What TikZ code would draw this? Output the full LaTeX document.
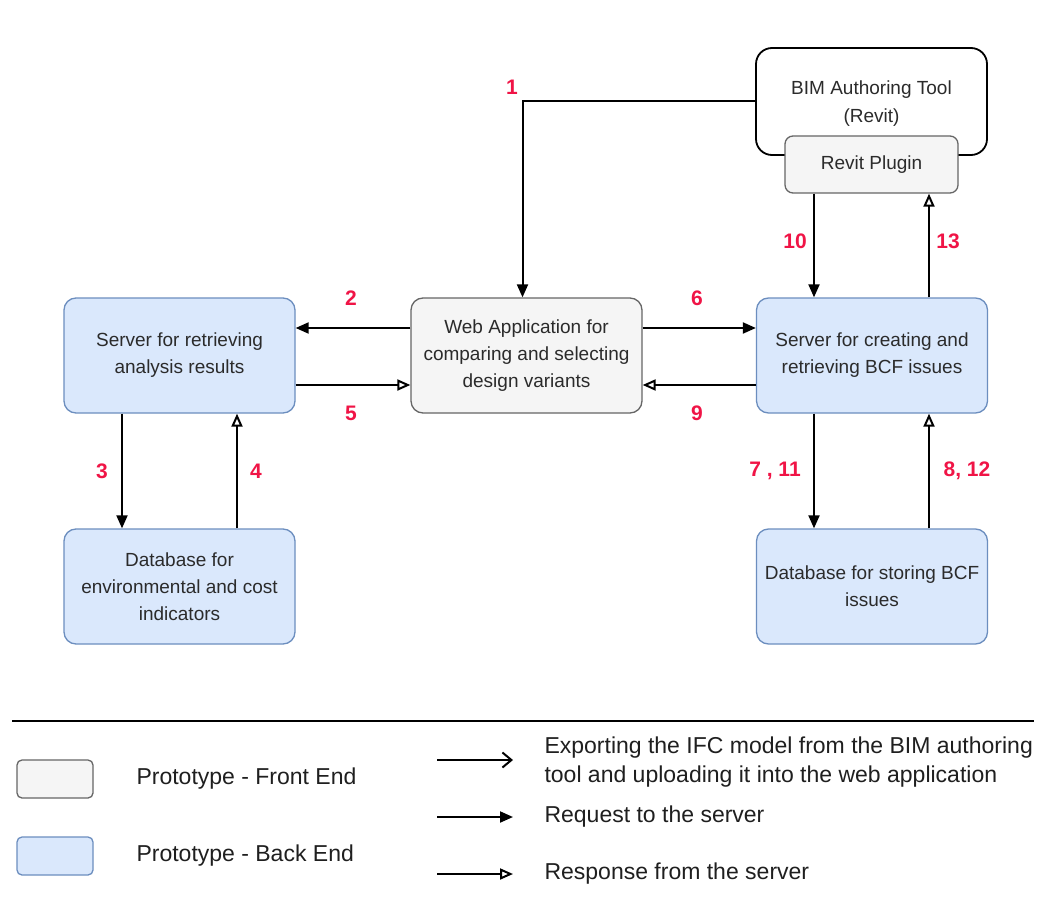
\documentclass[tikz,border=0pt]{standalone}
\usepackage{fontspec}
\setmainfont{Liberation Sans}
\usetikzlibrary{arrows.meta}
\definecolor{bluefill}{HTML}{DAE8FC}
\definecolor{blueline}{HTML}{6C8EBF}
\definecolor{grayfill}{HTML}{F5F5F5}
\definecolor{grayline}{HTML}{666666}
\definecolor{numred}{RGB}{240,20,70}
\definecolor{txt}{HTML}{2B2B2B}

\begin{document}
\begin{tikzpicture}[x=1pt,y=-1pt,
  box/.style={rounded corners=12pt, line width=1.3pt, minimum width=231pt,
    minimum height=115pt, inner sep=0pt, align=center, text=txt,
    font=\fontsize{19}{27}\selectfont},
  backend/.style={box, fill=bluefill, draw=blueline},
  frontend/.style={box, fill=grayfill, draw=grayline},
  req/.style={line width=2pt, -{Triangle[length=13pt,width=11pt]}},
  resp/.style={line width=2pt, -{Triangle[open,length=13pt,width=11pt,fill=white]}},
  export/.style={line width=2pt, -{Straight Barb[length=9pt,width=15pt]}},
  num/.style={text=numred, font=\fontsize{21}{21}\selectfont\bfseries},
  legtext/.style={font=\fontsize{23}{29}\selectfont, text=black!88, anchor=west, align=left},
  swatch/.style={rounded corners=5pt, line width=1.3pt, minimum width=76pt, minimum height=38pt, inner sep=0pt}
]
\fill[white] (0,0) rectangle (1046,909);
\useasboundingbox (0,0) rectangle (1046,909);

% authoring tool with its plugin
\node[draw=black, fill=white, line width=1.8pt, rounded corners=16pt,
      minimum width=231pt, minimum height=107pt] (bim) at (871.5,101.5) {};
\node[text=txt, align=center, font=\fontsize{19}{28}\selectfont] (bimtext) at (871.5,104) {BIM Authoring Tool\\(Revit)};
\node[frontend, minimum width=173pt, minimum height=57pt, rounded corners=8pt] (plugin) at (871.5,164.5) {Revit Plugin};

% main components
\node[backend]  (srv) at (179.5,355.5) {Server for retrieving\\analysis results};
\node[frontend] (web) at (526.5,355.5) {Web Application for\\comparing and selecting\\design variants};
\node[backend]  (bcf) at (872,355.5)   {Server for creating and\\retrieving BCF issues};
\node[backend]  (dbenv) at (179.5,586.5) {Database for\\environmental and cost\\indicators};
\node[backend]  (dbbcf) at (872,586.5)   {Database for storing BCF\\issues};

% connectors
\draw[req] (bim.west) -| ([xshift=-4pt]web.north);
\draw[req] ([yshift=27.5pt]web.west) -- ([yshift=27.5pt]srv.east);
\draw[resp] ([yshift=-29.5pt]srv.east) -- ([yshift=-29.5pt]web.west);
\draw[req] ([yshift=27.5pt]web.east) -- ([yshift=27.5pt]bcf.west);
\draw[resp] ([yshift=-29.5pt]bcf.west) -- ([yshift=-29.5pt]web.east);
\draw[req] ([xshift=-57.5pt]srv.south) -- ([xshift=-57.5pt]dbenv.north);
\draw[resp] ([xshift=57.5pt]dbenv.north) -- ([xshift=57.5pt]srv.north |- srv.south);
\draw[req] ([xshift=-57.5pt]plugin.south) -- ([xshift=-58pt]bcf.north);
\draw[resp] ([xshift=57pt]bcf.north) -- ([xshift=57.5pt]plugin.south);
\draw[req] ([xshift=-58pt]bcf.south) -- ([xshift=-58pt]dbbcf.north);
\draw[resp] ([xshift=57pt]dbbcf.north) -- ([xshift=57pt]bcf.south);

% step numbers
\node[num] (n1)  at (512,87)  {1};
\node[num] (n2)  at (351,298) {2};
\node[num] (n5)  at (351,413) {5};
\node[num] (n6)  at (697,298) {6};
\node[num] (n9)  at (697,413) {9};
\node[num] (n3)  at (102,471) {3};
\node[num] (n4)  at (256,471) {4};
\node[num] (n10) at (795,241) {10};
\node[num] (n13) at (948,241) {13};
\node[num] (n711) at (775,471) {7 , 11};
\node[num] (n812) at (967,471) {8, 12};

% legend
\coordinate (rulel) at (12,721);
\coordinate (ruler) at (1034,721);
\draw[line width=2.2pt] (rulel) -- (ruler);

\node[swatch, fill=grayfill, draw=grayline] (swfront) at (55,779) {};
\node[swatch, fill=bluefill, draw=blueline] (swback) at (55,856) {};
\node[legtext] (lfront) at (133,779) {Prototype - Front End};
\node[legtext] (lback)  at (133,856) {Prototype - Back End};

\coordinate (a1s) at (437,760); \coordinate (a1e) at (513,760);
\coordinate (a2s) at (437,817); \coordinate (a2e) at (513,817);
\coordinate (a3s) at (437,874); \coordinate (a3e) at (513,874);
\draw[export] (a1s) -- (a1e);
\draw[req] (a2s) -- (a2e);
\draw[resp] (a3s) -- (a3e);
\node[legtext] (lexp) at (541,762) {Exporting the IFC model from the BIM authoring\\tool and uploading it into the web application};
\node[legtext] (lreq) at (541,817) {Request to the server};
\node[legtext] (lres) at (541,874) {Response from the server};
\end{tikzpicture}
\end{document}
